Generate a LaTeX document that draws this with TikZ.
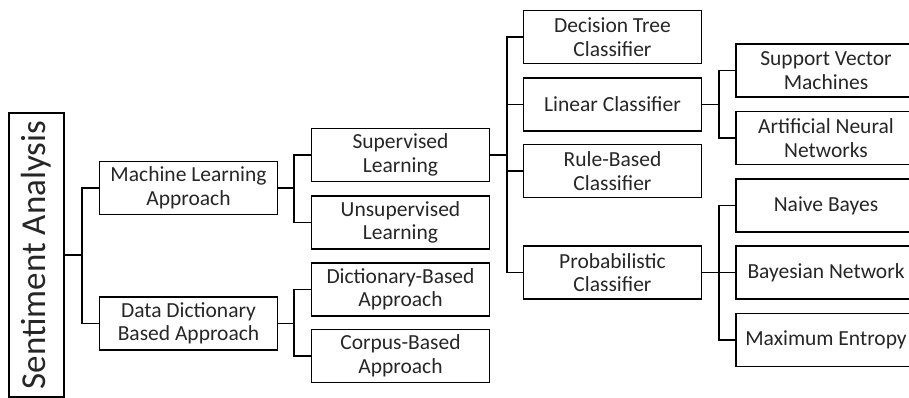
\documentclass[tikz,border=0pt]{standalone}
\usepackage{graphicx}
\usepackage{fontspec}
\setmainfont{Carlito}
\begin{document}
\begin{tikzpicture}[x=1pt, y=-1pt, line width=1.3pt,
        box/.style={draw, minimum width=178pt, minimum height=53pt, inner sep=0pt, align=center,
            text=black!85, font=\fontsize{21.5}{23.5}\selectfont}]
    \useasboundingbox (0,0) rectangle (909,397);

    \node[draw, minimum width=55pt, minimum height=284pt, inner sep=0pt, text=black!85] (sa) at (36.5,255)
        {\rotatebox{90}{\fontsize{35}{36}\selectfont Sentiment Analysis}};

    \node[box] (ml) at (188.5,188) {Machine Learning\\Approach};
    \node[box] (dd) at (188.5,323.5) {Data Dictionary\\Based Approach};

    \node[box] (sup) at (400.5,155) {Supervised\\Learning};
    \node[box] (unsup) at (400.5,222.5) {Unsupervised\\Learning};
    \node[box] (dict) at (400.5,289.5) {Dictionary-Based\\Approach};
    \node[box] (corp) at (400.5,356) {Corpus-Based\\Approach};

    \node[box] (dt) at (612.5,37) {Decision Tree\\Classifier};
    \node[box] (lin) at (612.5,104.5) {Linear Classifier};
    \node[box] (rule) at (612.5,171) {Rule-Based\\Classifier};
    \node[box] (prob) at (612.5,272.5) {Probabilistic\\Classifier};

    \node[box, minimum width=180pt] (svm) at (826,70.5) {Support Vector\\Machines};
    \node[box, minimum width=180pt] (ann) at (826,138) {Artificial Neural\\Networks};
    \node[box, minimum width=180pt] (nb) at (826,205.5) {Naive Bayes};
    \node[box, minimum width=180pt] (bn) at (826,272.5) {Bayesian Network};
    \node[box, minimum width=180pt] (me) at (826,340) {Maximum Entropy};

    \coordinate (t1) at (82,0);
    \coordinate (t2) at (294,0);
    \coordinate (t3) at (507,0);
    \coordinate (t4) at (719,0);

    \draw (sa.east) -- (sa.east -| t1) |- (ml.west);
    \draw (sa.east -| t1) |- (dd.west);

    \draw (ml.east) -- (ml.east -| t2) |- (sup.west);
    \draw (ml.east -| t2) |- (unsup.west);
    \draw (dd.east) -- (dd.east -| t2) |- (dict.west);
    \draw (dd.east -| t2) |- (corp.west);

    \draw (sup.east) -- (sup.east -| t3) |- (dt.west);
    \draw (sup.east -| t3) |- (lin.west);
    \draw (sup.east -| t3) |- (rule.west);
    \draw (sup.east -| t3) |- (prob.west);

    \draw (lin.east) -- (lin.east -| t4) |- (svm.west);
    \draw (lin.east -| t4) |- (ann.west);
    \draw (prob.east) -- (prob.east -| t4) |- (nb.west);
    \draw (prob.east -| t4) |- (bn.west);
    \draw (prob.east -| t4) |- (me.west);
\end{tikzpicture}
\end{document}
